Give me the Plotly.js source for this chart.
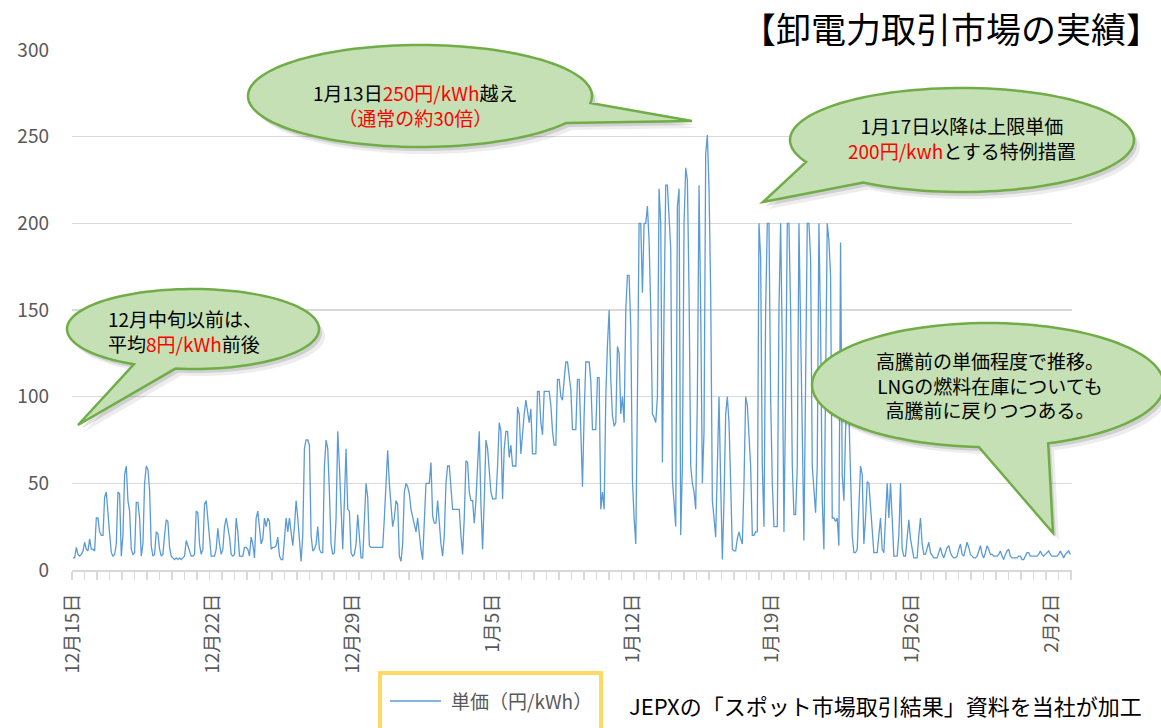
<!DOCTYPE html>
<html><head><meta charset="utf-8">
<script src="https://cdn.plot.ly/plotly-3.0.1.min.js"></script>
<style>html,body{margin:0;padding:0;background:#fff;}#chart{width:1161px;height:728px;}</style>
</head><body><div id="chart"></div>
<script>
// ---- data (2-hour slots, 12 per day, starting 12月15日 0:00) ----
const seriesName = '単価（円/kWh）';
const slotsPerDay = 12;
const tickLabels = ['12月15日','12月22日','12月29日','1月5日','1月12日','1月19日','1月26日','2月2日'];

const weekDec15 = [
  7, 7, 13, 9, 8, 9, 11, 16, 12, 11, 18, 12,
  12, 11, 30, 30, 22, 20, 20, 42, 45, 30, 21, 10,
  8, 9, 15, 45, 44, 8, 20, 55, 60, 40, 34, 12,
  9, 10, 39, 39, 30, 8, 15, 50, 60, 58, 46, 14,
  8, 9, 22, 21, 12, 8, 9, 20, 29, 28, 13, 8,
  7, 6, 7, 6, 7, 6, 7, 8, 17, 14, 11, 8,
  8, 9, 34, 33, 15, 9, 12, 38, 40, 30, 16, 8
];
const weekDec22 = [
  8, 8, 12, 24, 15, 9, 12, 25, 30, 24, 19, 9,
  8, 9, 30, 22, 8, 8, 8, 13, 13, 12, 8, 19,
  15, 7, 30, 34, 22, 15, 18, 30, 25, 30, 28, 12,
  13, 13, 14, 19, 8, 6, 6, 20, 30, 22, 30, 22,
  14, 25, 40, 30, 14, 5, 20, 70, 75, 75, 72, 20,
  11, 12, 15, 25, 12, 10, 10, 60, 75, 70, 45, 15,
  9, 10, 30, 80, 60, 30, 12, 40, 70, 35, 34, 10
];
const weekDec29 = [
  8, 9, 15, 32, 20, 7, 7, 25, 50, 42, 14, 13,
  13, 13, 13, 13, 13, 13, 13, 30, 55, 69, 50, 35,
  25, 30, 40, 38, 8, 5, 15, 45, 50, 48, 44, 35,
  30, 25, 22, 30, 20, 12, 6, 30, 50, 50, 50, 62,
  31, 27, 27, 40, 25, 15, 8, 20, 50, 60, 60, 45,
  35, 35, 35, 35, 35, 20, 9, 30, 63, 62, 45, 40,
  40, 27, 40, 60, 80, 38, 12, 40, 75, 70, 55, 45
];
const weekJan5 = [
  41, 41, 41, 60, 85, 80, 41, 70, 80, 80, 65, 72,
  60, 60, 60, 94, 90, 67, 80, 90, 98, 90, 85, 93,
  67, 67, 67, 103, 103, 85, 78, 103, 103, 103, 103, 95,
  80, 72, 72, 110, 110, 100, 98, 110, 120, 120, 110, 104,
  81, 81, 81, 110, 110, 80, 48, 90, 120, 120, 120, 109,
  81, 81, 81, 111, 111, 35, 45, 35, 100, 130, 150, 110,
  89, 83, 85, 129, 125, 90, 100, 85, 150, 170, 170, 140
];
const weekJan12 = [
  52, 30, 15, 100, 200, 200, 160, 200, 200, 210, 190, 150,
  90, 88, 85, 100, 220, 200, 62, 150, 222, 222, 200, 185,
  52, 40, 25, 210, 220, 20, 60, 200, 232, 225, 160, 60,
  50, 45, 35, 100, 222, 150, 50, 80, 240, 251, 220, 160,
  40, 30, 19, 60, 100, 50, 6, 40, 90, 100, 85, 50,
  12, 11, 11, 18, 22, 18, 15, 50, 100, 95, 80, 60,
  20, 20, 22, 22, 200, 180, 60, 25, 150, 200, 200, 100
];
const weekJan19 = [
  50, 25, 25, 25, 150, 200, 130, 22, 100, 200, 200, 150,
  60, 32, 32, 60, 200, 150, 80, 17, 100, 200, 200, 180,
  60, 45, 33, 60, 200, 140, 40, 12, 100, 200, 190, 170,
  30, 30, 28, 30, 14, 189, 55, 40, 80, 100, 90, 45,
  20, 10, 10, 12, 40, 60, 55, 15, 30, 51, 50, 35,
  25, 10, 10, 10, 20, 30, 12, 10, 30, 50, 30, 50,
  30, 8, 8, 8, 20, 50, 12, 8, 8, 20, 29, 18
];
const weekJan26 = [
  12, 7, 7, 7, 20, 30, 15, 9, 9, 12, 16, 10,
  8, 7, 7, 7, 10, 13, 9, 7, 10, 13, 14, 10,
  8, 7, 7, 8, 12, 15, 9, 8, 12, 16, 13, 9,
  8, 7, 7, 8, 11, 14, 9, 7, 10, 14, 12, 9,
  9, 8, 8, 8, 9, 11, 8, 6, 9, 11, 12, 8,
  7, 7, 7, 7, 8, 8, 6, 6, 8, 10, 10, 8,
  8, 8, 8, 8, 9, 11, 9, 8, 9, 10, 11, 9
];
const weekFeb2 = [
  8, 8, 8, 8, 9, 11, 9, 7, 9, 10, 11, 9
];

const prices = [].concat(weekDec15, weekDec22, weekDec29, weekJan5, weekJan12, weekJan19, weekJan26, weekFeb2);
const xs = prices.map((_, i) => i / slotsPerDay);
const tickDays = tickLabels.map((_, i) => i * 7);

// ---- layout helpers (pixel -> paper) ----
const W = 1161, H = 728, L = 72, R = 89, T = 50, B = 158;
const PW = W - L - R, PH = H - T - B;
const px = x => (x - L) / PW;
const py = y => (H - B - y) / PH;
const FONT = "'Noto Sans CJK JP', 'Noto Sans', sans-serif";
const LINE_COLOR = '#5B9BD5';

function calloutPath(cx, cy, rx, ry, a1, a2, tx, ty, dx, dy) {
  const pts = [];
  const n = 120;
  for (let k = 0; k <= n; k++) {
    const a = (a2 + (a1 + 360 - a2) * k / n) * Math.PI / 180;
    pts.push([cx + rx * Math.cos(a) + dx, cy + ry * Math.sin(a) + dy]);
  }
  pts.push([tx + dx, ty + dy]);
  return 'M' + pts.map(p => px(p[0]).toFixed(5) + ',' + py(p[1]).toFixed(5)).join(' L') + ' Z';
}

const bubbles = [
  {cx: 420, cy: 96, rx: 172, ry: 51, a1: 8, a2: 32, tx: 692, ty: 121},
  {cx: 962, cy: 140, rx: 172, ry: 52, a1: 125, a2: 155, tx: 763, ty: 202},
  {cx: 193, cy: 329, rx: 126, ry: 40, a1: 98, a2: 118, tx: 78, ty: 425},
  {cx: 988, cy: 385, rx: 176, ry: 62, a1: 70, a2: 93, tx: 1053, ty: 533}
];

const shapes = [];
bubbles.forEach(b => {
  shapes.push({type: 'path', xref: 'paper', yref: 'paper', layer: 'above',
    path: calloutPath(b.cx, b.cy, b.rx, b.ry, b.a1, b.a2, b.tx, b.ty, 6, 7),
    fillcolor: 'rgba(0,0,0,0.07)', line: {width: 0}});
  shapes.push({type: 'path', xref: 'paper', yref: 'paper', layer: 'above',
    path: calloutPath(b.cx, b.cy, b.rx, b.ry, b.a1, b.a2, b.tx, b.ty, 3, 4),
    fillcolor: 'rgba(0,0,0,0.12)', line: {width: 0}});
});
bubbles.forEach(b => {
  shapes.push({type: 'path', xref: 'paper', yref: 'paper', layer: 'above',
    path: calloutPath(b.cx, b.cy, b.rx, b.ry, b.a1, b.a2, b.tx, b.ty, 0, 0),
    fillcolor: '#C5E0B4', line: {color: '#70AD47', width: 2.5}});
});
// legend frame and sample line
shapes.push({type: 'rect', xref: 'paper', yref: 'paper', layer: 'above',
  x0: px(380), x1: px(601), y0: py(673), y1: py(745),
  line: {color: '#FFD966', width: 4}, fillcolor: 'rgba(0,0,0,0)'});
shapes.push({type: 'line', xref: 'paper', yref: 'paper', layer: 'above',
  x0: px(390), x1: px(441), y0: py(701), y1: py(701),
  line: {color: LINE_COLOR, width: 1.5}});

const red = t => '<span style="color:#FF0000">' + t + '</span>';
const bubbleFont = {family: FONT, size: 19, color: '#000000'};
const annotations = [
  {x: px(951), y: py(28), xref: 'paper', yref: 'paper', xanchor: 'center', yanchor: 'middle',
   text: '【卸電力取引市場の実績】', showarrow: false, font: {family: FONT, size: 35, color: '#000000'}},
  {x: px(627), y: py(705), xref: 'paper', yref: 'paper', xanchor: 'left', yanchor: 'middle',
   text: 'JEPXの「スポット市場取引結果」資料を当社が加工', showarrow: false, font: {family: FONT, size: 22, color: '#000000'}},
  {x: px(449), y: py(700), xref: 'paper', yref: 'paper', xanchor: 'left', yanchor: 'middle',
   text: seriesName, showarrow: false, font: {family: FONT, size: 19, color: '#595959'}},
  {x: px(415), y: py(105), xref: 'paper', yref: 'paper', xanchor: 'center', yanchor: 'middle', align: 'center',
   text: '1月13日' + red('250円/kWh') + '越え<br>' + red('（通常の約30倍）'), showarrow: false, font: bubbleFont},
  {x: px(962), y: py(138), xref: 'paper', yref: 'paper', xanchor: 'center', yanchor: 'middle', align: 'center',
   text: '1月17日以降は上限単価<br>' + red('200円/kwh') + 'とする特例措置', showarrow: false, font: bubbleFont},
  {x: px(106), y: py(331), xref: 'paper', yref: 'paper', xanchor: 'left', yanchor: 'middle', align: 'left',
   text: '12月中旬以前は、<br>平均' + red('8円/kWh') + '前後', showarrow: false, font: bubbleFont},
  {x: px(990), y: py(385), xref: 'paper', yref: 'paper', xanchor: 'center', yanchor: 'middle', align: 'center',
   text: '高騰前の単価程度で推移。<br>LNGの燃料在庫についても<br>高騰前に戻りつつある。', showarrow: false, font: bubbleFont}
];

const trace = {
  x: xs, y: prices, type: 'scatter', mode: 'lines', name: seriesName,
  line: {color: LINE_COLOR, width: 1.3}, hoverinfo: 'skip'
};

const layout = {
  width: W, height: H,
  margin: {l: L, r: R, t: T, b: B, pad: 0, autoexpand: false},
  paper_bgcolor: '#ffffff', plot_bgcolor: '#ffffff',
  font: {family: FONT, color: '#595959'},
  showlegend: false,
  xaxis: {
    type: 'linear', range: [-0.05, 50.0], automargin: false,
    tickmode: 'array', tickvals: tickDays, ticktext: tickLabels,
    tickangle: -90, tickfont: {family: FONT, size: 19, color: '#595959'},
    ticks: '', ticklabelstandoff: 14,
    showline: true, linecolor: '#d9d9d9', linewidth: 2,
    showgrid: false, zeroline: false,
    minor: {ticks: 'outside', ticklen: 8, tickwidth: 1.5, tickcolor: '#d9d9d9', dtick: 0.625, tick0: -0.05, showgrid: false}
  },
  yaxis: {
    range: [0, 300], dtick: 50, tick0: 0, automargin: false,
    showgrid: true, gridcolor: '#d9d9d9', gridwidth: 1.3,
    zeroline: false, showline: false, ticks: '',
    tickfont: {family: FONT, size: 19, color: '#595959'}, ticklabelstandoff: 22
  },
  shapes: shapes,
  annotations: annotations,
  hovermode: false
};

Plotly.newPlot('chart', [trace], layout, {displayModeBar: false, staticPlot: true});
</script></body></html>
